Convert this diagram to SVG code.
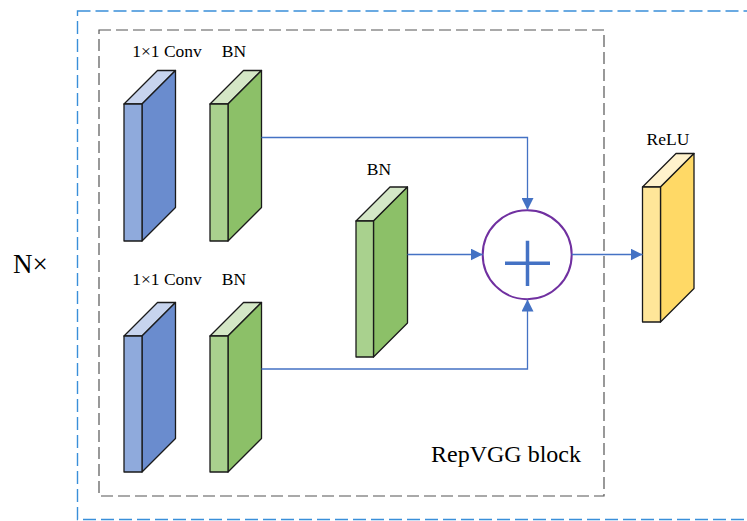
<svg xmlns="http://www.w3.org/2000/svg" width="747" height="521" viewBox="0 0 747 521">
<defs>
<style>
.lbl{font-family:"Liberation Serif","Times New Roman",serif;fill:#000;}
.s{font-size:17.5px;}
.blk{stroke:#1a1a1a;stroke-width:1.3;stroke-linejoin:round;}
.bf{fill:#8FAADC}.bs{fill:#6A8CCE}.bt{fill:#C7D4EE}
.gf{fill:#A9D18E}.gs{fill:#8CC068}.gt{fill:#D4E7C6}
.yf{fill:#FFE699}.ys{fill:#FFD966}.yt{fill:#FFF2CC}
.con{fill:none;stroke:#4472C4;stroke-width:1.3;}
</style>
<marker id="ah" markerUnits="userSpaceOnUse" markerWidth="12" markerHeight="12" viewBox="0 0 10 10" refX="10" refY="5" orient="auto">
<path d="M0,0 L10,5 L0,10 z" fill="#4472C4"/>
</marker>
</defs>
<rect width="747" height="521" fill="#fff"/>

<g id="outer-frame">
<rect x="77.5" y="11" width="700" height="508.5" fill="none" stroke="#3A8FD9" stroke-width="1.4" stroke-dasharray="13,5"/>
<text class="lbl" x="13" y="273" font-size="27">N×</text>
</g>

<g id="repvgg-block">
<rect x="99" y="30" width="505" height="466" fill="none" stroke="#555" stroke-width="1.2" stroke-dasharray="12,5"/>
<text class="lbl" x="431" y="462" font-size="24">RepVGG block</text>
</g>

<g id="conv1">
<text class="lbl s" x="167" y="57" text-anchor="middle">1×1 Conv</text>
<polygon class="blk bt" points="124,104 142,104 175.5,70.5 157.5,70.5"/>
<polygon class="blk bs" points="142,104 175.5,70.5 175.5,207.5 142,241"/>
<rect class="blk bf" x="124" y="104" width="18" height="137"/>
</g>

<g id="bn1">
<text class="lbl s" x="234" y="57" text-anchor="middle">BN</text>
<polygon class="blk gt" points="210,104 228,104 261.5,70.5 243.5,70.5"/>
<polygon class="blk gs" points="228,104 261.5,70.5 261.5,207.5 228,241"/>
<rect class="blk gf" x="210" y="104" width="18" height="137"/>
</g>

<g id="conv2">
<text class="lbl s" x="167" y="285" text-anchor="middle">1×1 Conv</text>
<polygon class="blk bt" points="124,336 142,336 175.5,302.5 157.5,302.5"/>
<polygon class="blk bs" points="142,336 175.5,302.5 175.5,438.5 142,472"/>
<rect class="blk bf" x="124" y="336" width="18" height="136"/>
</g>

<g id="bn2">
<text class="lbl s" x="234" y="285" text-anchor="middle">BN</text>
<polygon class="blk gt" points="210,336 228,336 261.5,302.5 243.5,302.5"/>
<polygon class="blk gs" points="228,336 261.5,302.5 261.5,438.5 228,472"/>
<rect class="blk gf" x="210" y="336" width="18" height="136"/>
</g>

<g id="bn3">
<text class="lbl s" x="379" y="175" text-anchor="middle">BN</text>
<polygon class="blk gt" points="356,221 373.5,221 407.5,187 390,187"/>
<polygon class="blk gs" points="373.5,221 407.5,187 407.5,323 373.5,357"/>
<rect class="blk gf" x="356" y="221" width="17.5" height="136"/>
</g>

<g id="add">
<circle cx="527.2" cy="254.7" r="44.5" fill="#fff" stroke="#7030A0" stroke-width="2"/>
<path d="M505 263.3 H550 M527.5 240.7 V286" stroke="#4472C4" stroke-width="3.5" fill="none"/>
</g>

<g id="relu">
<text class="lbl s" x="668" y="145" text-anchor="middle">ReLU</text>
<polygon class="blk yt" points="642.5,187 660.5,187 694,153.5 676,153.5"/>
<polygon class="blk ys" points="660.5,187 694,153.5 694,288.5 660.5,322"/>
<rect class="blk yf" x="642.5" y="187" width="18" height="135"/>
</g>

<g id="connectors">
<path class="con" d="M261.5 137.5 H527.5 V210" marker-end="url(#ah)"/>
<path class="con" d="M407.5 254.5 H482.7" marker-end="url(#ah)"/>
<path class="con" d="M261.5 369 H527.5 V299.5" marker-end="url(#ah)"/>
<path class="con" d="M571.7 254.5 H642.5" marker-end="url(#ah)"/>
</g>
</svg>
